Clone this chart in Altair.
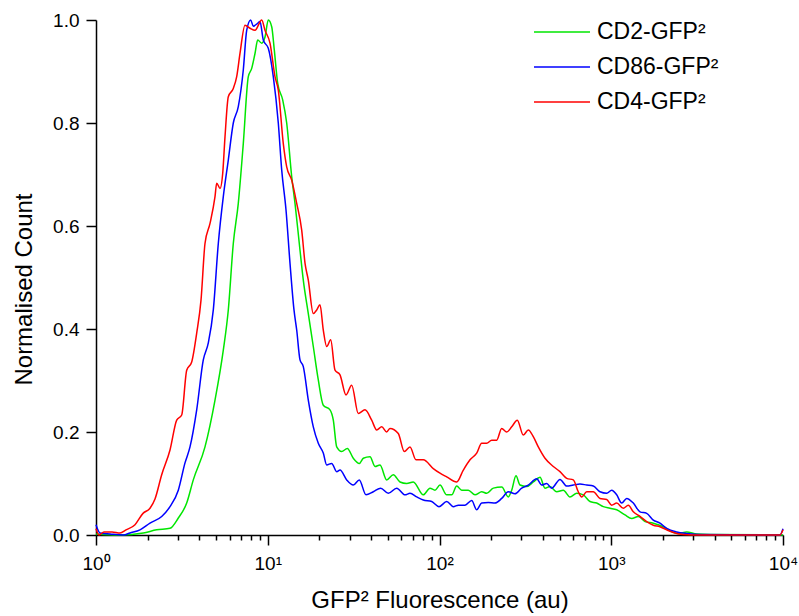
import altair as alt
import pandas as pd

series_names = ["CD2-GFP²", "CD86-GFP²", "CD4-GFP²"]
series_colors = ["#00e600", "#0000ff", "#ff0000"]

# x values are log10(GFP² fluorescence, au); y is normalised count
cd2_log_x = [0, 0.1397, 0.2754, 0.3534, 0.4309, 0.4792, 0.5281, 0.5665, 0.6346, 0.6929, 0.7412, 0.7703, 0.7994, 0.8285, 0.8576, 0.8868, 0.9066, 0.9258, 0.9415, 0.9648, 0.9840, 1.0032, 1.0230, 1.0381, 1.0579, 1.0870, 1.1103, 1.1394, 1.1587, 1.1878, 1.2070, 1.2361, 1.2652, 1.2943, 1.3234, 1.3624, 1.3817, 1.4015, 1.4306, 1.4632, 1.4981, 1.5330, 1.5563, 1.5953, 1.6245, 1.6536, 1.6926, 1.7310, 1.7700, 1.8090, 1.8475, 1.9057, 1.9447, 1.9738, 2.0029, 2.0419, 2.0710, 2.1001, 2.1293, 2.1677, 2.2067, 2.2457, 2.2748, 2.3133, 2.3622, 2.4006, 2.4204, 2.4454, 2.4687, 2.5077, 2.5461, 2.5852, 2.6143, 2.6434, 2.6824, 2.7209, 2.7598, 2.7988, 2.8373, 2.8763, 2.9153, 2.9537, 2.9927, 3.0317, 3.0801, 3.1191, 3.1575, 3.1965, 3.2449, 3.3031, 3.3421, 3.3903, 3.4393, 3.4975, 3.5750, 4.0]
cd2_count = [0.002, 0.0, 0.004, 0.01, 0.013, 0.033, 0.062, 0.107, 0.171, 0.262, 0.359, 0.437, 0.566, 0.644, 0.76, 0.89, 0.906, 0.935, 0.961, 0.955, 0.967, 1.0, 0.987, 0.942, 0.877, 0.845, 0.8, 0.696, 0.644, 0.553, 0.495, 0.43, 0.366, 0.301, 0.252, 0.243, 0.223, 0.171, 0.162, 0.168, 0.149, 0.139, 0.149, 0.152, 0.133, 0.136, 0.107, 0.117, 0.103, 0.1, 0.103, 0.078, 0.091, 0.087, 0.097, 0.078, 0.078, 0.095, 0.087, 0.087, 0.078, 0.084, 0.081, 0.091, 0.093, 0.074, 0.087, 0.115, 0.097, 0.094, 0.103, 0.112, 0.091, 0.094, 0.084, 0.087, 0.074, 0.081, 0.078, 0.065, 0.062, 0.055, 0.052, 0.049, 0.039, 0.032, 0.036, 0.026, 0.023, 0.016, 0.008, 0.003, 0.006, 0.002, 0.001, 0.0]

cd86_log_x = [0, 0.0233, 0.0815, 0.1590, 0.1980, 0.2562, 0.3144, 0.3825, 0.4309, 0.4792, 0.5182, 0.5473, 0.5863, 0.6247, 0.6539, 0.6830, 0.7121, 0.7412, 0.7703, 0.7994, 0.8285, 0.8576, 0.8774, 0.9007, 0.9159, 0.9392, 0.9549, 0.9741, 1.0032, 1.0323, 1.0614, 1.0812, 1.1063, 1.1295, 1.1528, 1.1686, 1.1878, 1.2070, 1.2361, 1.2652, 1.2943, 1.3234, 1.3432, 1.3723, 1.4015, 1.4207, 1.4597, 1.4981, 1.5330, 1.5721, 1.6146, 1.6577, 1.7019, 1.7508, 1.7991, 1.8282, 1.8672, 1.9057, 1.9546, 1.9971, 2.0419, 2.0803, 2.1094, 2.1485, 2.1875, 2.2166, 2.2457, 2.2841, 2.3231, 2.3622, 2.4006, 2.4396, 2.4786, 2.5170, 2.5659, 2.5950, 2.6242, 2.6533, 2.7016, 2.7406, 2.7790, 2.8180, 2.8571, 2.8955, 2.9345, 2.9735, 3.0026, 3.0317, 3.0608, 3.0900, 3.1284, 3.1674, 3.2064, 3.2449, 3.2838, 3.3229, 3.3811, 3.4393, 3.5168, 3.9825, 4.0]
cd86_count = [0.02, 0.004, 0.002, 0.0, 0.004, 0.01, 0.023, 0.036, 0.055, 0.087, 0.14, 0.171, 0.243, 0.34, 0.373, 0.437, 0.566, 0.657, 0.728, 0.8, 0.832, 0.903, 0.98, 1.0, 0.988, 0.993, 0.997, 0.961, 0.945, 0.89, 0.8, 0.709, 0.631, 0.528, 0.437, 0.398, 0.34, 0.327, 0.262, 0.21, 0.178, 0.159, 0.136, 0.139, 0.123, 0.126, 0.107, 0.097, 0.107, 0.078, 0.084, 0.091, 0.081, 0.091, 0.078, 0.081, 0.074, 0.068, 0.065, 0.055, 0.065, 0.055, 0.058, 0.058, 0.067, 0.049, 0.062, 0.063, 0.062, 0.071, 0.084, 0.08, 0.091, 0.097, 0.109, 0.097, 0.1, 0.091, 0.108, 0.095, 0.097, 0.099, 0.097, 0.095, 0.084, 0.081, 0.087, 0.078, 0.062, 0.071, 0.062, 0.045, 0.042, 0.029, 0.023, 0.013, 0.006, 0.003, 0.001, 0.0, 0.012]

cd4_log_x = [0, 0.0175, 0.0466, 0.0932, 0.1397, 0.1747, 0.2271, 0.2737, 0.3144, 0.3435, 0.3825, 0.4309, 0.4699, 0.4990, 0.5281, 0.5572, 0.5863, 0.6114, 0.6346, 0.6638, 0.6929, 0.7028, 0.7220, 0.7377, 0.7511, 0.7703, 0.7994, 0.8192, 0.8384, 0.8675, 0.8967, 0.9258, 0.9648, 0.9840, 1.0131, 1.0422, 1.0614, 1.0905, 1.1103, 1.1394, 1.1686, 1.1977, 1.2169, 1.2361, 1.2652, 1.2850, 1.3042, 1.3234, 1.3432, 1.3665, 1.3916, 1.4207, 1.4556, 1.4888, 1.5272, 1.5662, 1.6052, 1.6344, 1.6635, 1.6926, 1.7118, 1.7601, 1.7951, 1.8282, 1.8632, 1.9057, 1.9639, 2.0029, 2.0419, 2.1001, 2.1386, 2.1776, 2.2166, 2.2457, 2.2748, 2.3039, 2.3330, 2.3622, 2.3913, 2.4204, 2.4530, 2.4879, 2.5170, 2.5461, 2.5753, 2.6143, 2.6626, 2.7016, 2.7406, 2.7790, 2.8081, 2.8280, 2.8571, 2.8955, 2.9345, 2.9735, 3.0026, 3.0317, 3.0702, 3.0993, 3.1284, 3.1674, 3.2064, 3.2449, 3.2838, 3.3229, 3.3613, 3.4195, 3.5168, 3.9825, 4.0]
cd4_count = [0.012, 0.0, 0.006, 0.006, 0.004, 0.01, 0.02, 0.042, 0.052, 0.07, 0.117, 0.165, 0.223, 0.233, 0.32, 0.336, 0.392, 0.456, 0.566, 0.605, 0.657, 0.683, 0.673, 0.702, 0.773, 0.851, 0.867, 0.89, 0.935, 0.99, 0.984, 0.98, 1.0, 0.98, 0.955, 0.89, 0.864, 0.76, 0.715, 0.689, 0.644, 0.592, 0.528, 0.495, 0.43, 0.437, 0.447, 0.398, 0.366, 0.379, 0.32, 0.311, 0.272, 0.291, 0.236, 0.243, 0.223, 0.204, 0.21, 0.2, 0.207, 0.197, 0.162, 0.171, 0.146, 0.146, 0.129, 0.12, 0.113, 0.103, 0.126, 0.146, 0.159, 0.178, 0.178, 0.184, 0.184, 0.207, 0.2, 0.21, 0.223, 0.194, 0.204, 0.191, 0.171, 0.149, 0.133, 0.123, 0.11, 0.107, 0.084, 0.074, 0.084, 0.084, 0.071, 0.069, 0.058, 0.062, 0.052, 0.058, 0.045, 0.036, 0.026, 0.019, 0.016, 0.01, 0.005, 0.001, 0.0, 0.0, 0.01]

x_tick_values = [1, 2, 3, 4, 5, 6, 7, 8, 9,
                 10, 20, 30, 40, 50, 60, 70, 80, 90,
                 100, 200, 300, 400, 500, 600, 700, 800, 900,
                 1000, 2000, 3000, 4000, 5000, 6000, 7000, 8000, 9000, 10000]
y_tick_values = [0.0, 0.2, 0.4, 0.6, 0.8, 1.0]

rows = []
for name, xs, ys in [(series_names[0], cd2_log_x, cd2_count),
                     (series_names[1], cd86_log_x, cd86_count),
                     (series_names[2], cd4_log_x, cd4_count)]:
    assert len(xs) == len(ys), name
    for lx, c in zip(xs, ys):
        rows.append({"series": name, "log_x": lx, "count": c})
df = pd.DataFrame(rows)

FONT = "Liberation Sans"

label_expr = ("datum.value == 1 ? '10⁰' : datum.value == 10 ? '10¹' : "
              "datum.value == 100 ? '10²' : datum.value == 1000 ? '10³' : "
              "datum.value == 10000 ? '10⁴' : ''")

chart = alt.Chart(df).transform_calculate(
    fluor="pow(10, datum.log_x)"
).mark_line(strokeWidth=1.5, interpolate="monotone").encode(
    x=alt.X("fluor:Q",
            scale=alt.Scale(type="log", domain=[1, 10000], nice=False),
            axis=alt.Axis(values=x_tick_values, labelExpr=label_expr,
                          tickSize={"condition": {"test": "indexof([1,10,100,1000,10000], datum.value) >= 0", "value": 10}, "value": 5},
                          labelFlush=False, labelOverlap=False, grid=False,
                          labelFont=FONT, labelFontSize=19, labelColor="black",
                          labelPadding=9,
                          domainColor="black", domainWidth=1.5,
                          tickColor="black", tickWidth=1.5,
                          title="GFP² Fluorescence (au)", titleFont=FONT,
                          titleFontSize=24, titleFontWeight="normal",
                          titleColor="black", titlePadding=15)),
    y=alt.Y("count:Q",
            scale=alt.Scale(domain=[0, 1], nice=False, zero=True),
            axis=alt.Axis(values=y_tick_values, format=".1f", grid=False,
                          tickSize=10, labelFont=FONT, labelFontSize=19,
                          labelColor="black", labelPadding=7,
                          domainColor="black", domainWidth=1.5,
                          tickColor="black", tickWidth=1.5,
                          title="Normalised Count", titleFont=FONT,
                          titleFontSize=24, titleFontWeight="normal",
                          titleColor="black", titlePadding=16, titleY=269)),
    color=alt.Color("series:N",
                    scale=alt.Scale(domain=series_names, range=series_colors),
                    legend=alt.Legend(orient="none", legendX=451, legendY=-3,
                                      title=None, symbolType="M-2,0H2",
                                      symbolSize=784, symbolStrokeWidth=1.5,
                                      labelFont=FONT, labelFontSize=23,
                                      labelColor="black", labelOffset=20,
                                      rowPadding=8, padding=0)),
).properties(
    width=687, height=515,
    padding={"left": 96, "top": 20, "right": 16, "bottom": 81},
    autosize=alt.AutoSizeParams(type="none"),
    background="white",
).configure_view(stroke=None)

chart.save("out.html", embed_options={"renderer": "svg", "actions": False})
